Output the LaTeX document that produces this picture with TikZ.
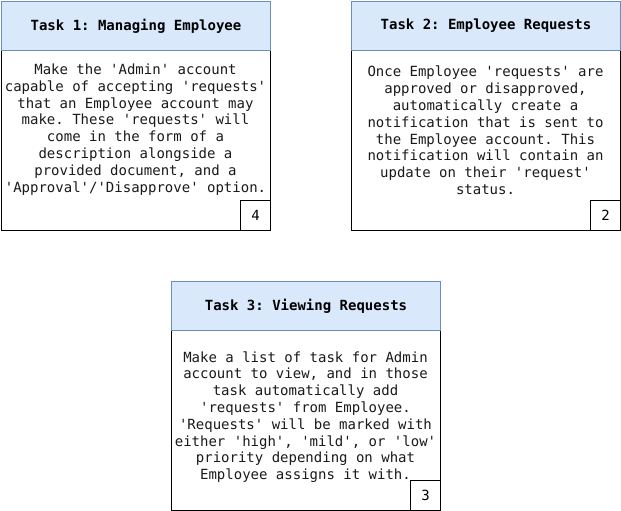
\documentclass[tikz,border=0pt]{standalone}
\usepackage{fontspec}
\newfontfamily\monofam{DejaVu Sans Mono}
\definecolor{hdrfill}{HTML}{DAE8FC}
\definecolor{hdrdraw}{HTML}{6C8EBF}
\definecolor{txtcol}{HTML}{1A1A1A}
\tikzset{
  hdr/.style={draw=hdrdraw, fill=hdrfill, line width=1pt, minimum width=269pt, minimum height=49pt, anchor=north west, inner sep=0pt, font=\monofam\bfseries\fontsize{14}{16.8}\selectfont\frenchspacing, text=black},
  bodybox/.style={draw=black, fill=white, line width=1pt, minimum width=269pt, minimum height=180pt, anchor=north west, inner sep=0pt},
  numbox/.style={draw=black, fill=white, line width=1pt, minimum width=30pt, minimum height=30pt, anchor=south east, inner sep=0pt, font=\monofam\fontsize{14}{16.8}\selectfont},
  bodytxt/.style={align=center, inner sep=0pt, text=txtcol, font=\monofam\fontsize{14}{16.8}\selectfont\frenchspacing}
}
\begin{document}
\begin{tikzpicture}[x=1pt,y=-1pt]
\useasboundingbox (0,0) rectangle (621,511);
% Task 1
\node[bodybox] (b1) at (1,50) {};
\node[hdr] (h1) at (1,1) {Task 1: Managing Employee};
\node[numbox] (n1) at (b1.south east) {4};
\node[bodytxt] (t1) at (135.5,129.5) {Make the 'Admin' account\\capable of accepting 'requests'\\that an Employee account may\\make. These 'requests' will\\come in the form of a\\description alongside a\\provided document, and a\\'Approval'/'Disapprove' option.};
% Task 2
\node[bodybox] (b2) at (351,50) {};
\node[hdr] (h2) at (351,1) {Task 2: Employee Requests};
\node[numbox] (n2) at (b2.south east) {2};
\node[bodytxt] (t2) at (485.5,130.5) {Once Employee 'requests' are\\approved or disapproved,\\automatically create a\\notification that is sent to\\the Employee account. This\\notification will contain an\\update on their 'request'\\status.};
% Task 3
\node[bodybox] (b3) at (171,330) {};
\node[hdr] (h3) at (171,281) {Task 3: Viewing Requests};
\node[numbox] (n3) at (b3.south east) {3};
\node[bodytxt] (t3) at (305.5,417) {Make a list of task for Admin\\account to view, and in those\\task automatically add\\'requests' from Employee.\\'Requests' will be marked with\\either 'high', 'mild', or 'low'\\priority depending on what\\Employee assigns it with.};
\end{tikzpicture}
\end{document}
